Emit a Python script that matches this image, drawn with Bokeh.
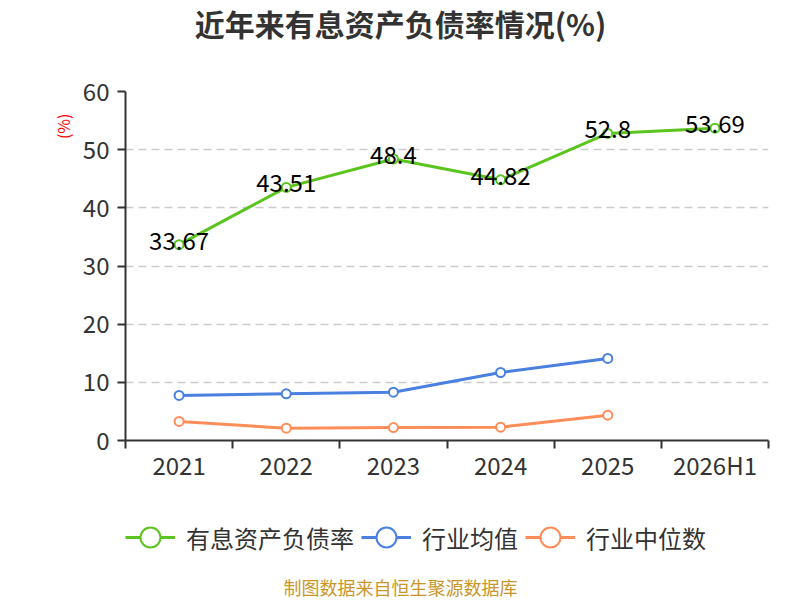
from bokeh.plotting import figure
from bokeh.models import Range1d, FixedTicker, Legend, LegendItem, Title, Label
from bokeh.layouts import column
from bokeh.embed import file_html
from bokeh.resources import INLINE
from bokeh.core.properties import value

# ---- data ----
categories = ["2021", "2022", "2023", "2024", "2025", "2026H1"]
debt_ratio = [33.67, 43.51, 48.4, 44.82, 52.8, 53.69]
industry_mean = [7.74, 8.02, 8.30, 11.69, 14.10]
industry_median = [3.27, 2.12, 2.23, 2.29, 4.35]
y_ticks = [0, 10, 20, 30, 40, 50, 60]
series_names = ["有息资产负债率", "行业均值", "行业中位数"]
title_text = "近年来有息资产负债率情况(%)"
source_text = "制图数据来自恒生聚源数据库"
unit_text = "(%)"

FONT = "Noto Sans CJK SC"
GREEN = "#5bc41e"
BLUE = "#4a80e0"
ORANGE = "#ff8d5a"
colors = [GREEN, BLUE, ORANGE]

x_pos = [i + 0.5 for i in range(len(categories))]
series_x = [x_pos, x_pos[:len(industry_mean)], x_pos[:len(industry_median)]]
series_y = [debt_ratio, industry_mean, industry_median]


def strip(height, y0):
    f = figure(width=800, height=height, output_backend="svg", toolbar_location=None,
               x_range=Range1d(125, 768), y_range=Range1d(y0 + height, y0),
               x_axis_type=None, y_axis_type=None,
               min_border_left=0, min_border_right=0, min_border_top=0, min_border_bottom=0,
               outline_line_color=None, background_fill_color="white", border_fill_color="white")
    f.xgrid.visible = False
    f.ygrid.visible = False
    return f


# ---- title strip ----
t = strip(46, 0)
t.add_layout(Label(x=400, y=22, text=title_text, text_align="center", text_baseline="middle",
                   text_font=FONT, text_font_size="30px", text_font_style="bold",
                   text_color="#333333"))

# ---- main chart ----
p = figure(width=800, height=449, output_backend="svg", toolbar_location=None,
           x_range=Range1d(0, len(categories)), y_range=Range1d(y_ticks[0], y_ticks[-1]),
           min_border_left=125, min_border_right=32, min_border_top=45, min_border_bottom=55,
           outline_line_color=None, background_fill_color="white", border_fill_color="white")

p.xaxis.ticker = FixedTicker(ticks=x_pos, minor_ticks=list(range(len(categories) + 1)))
p.xaxis.major_label_overrides = {x: c for x, c in zip(x_pos, categories)}
p.xaxis.major_tick_line_color = None
p.xaxis.major_tick_out = 0
p.xaxis.major_tick_in = 0
p.xaxis.minor_tick_line_color = "#333333"
p.xaxis.minor_tick_line_width = 2
p.xaxis.minor_tick_in = 0
p.xaxis.minor_tick_out = 8
p.xaxis.axis_line_color = "#333333"
p.xaxis.axis_line_width = 2
p.xaxis.major_label_text_font = FONT
p.xaxis.major_label_text_font_size = "24px"
p.xaxis.major_label_text_color = "#333333"
p.xaxis.major_label_standoff = -2

p.yaxis.ticker = FixedTicker(ticks=y_ticks)
p.yaxis.major_tick_line_color = "#333333"
p.yaxis.major_tick_line_width = 2
p.yaxis.major_tick_in = 0
p.yaxis.major_tick_out = 8
p.yaxis.minor_tick_line_color = None
p.yaxis.axis_line_color = "#333333"
p.yaxis.axis_line_width = 2
p.yaxis.major_label_text_font = FONT
p.yaxis.major_label_text_font_size = "24px"
p.yaxis.major_label_text_color = "#333333"
p.yaxis.major_label_standoff = 8

p.xgrid.visible = False
p.ygrid.grid_line_color = "#cccccc"
p.ygrid.grid_line_dash = "8 5"
p.ygrid.grid_line_width = 1.5

for xs, ys, c in zip(series_x, series_y, colors):
    p.line(xs, ys, line_color=c, line_width=3)
    p.scatter(xs, ys, size=9, fill_color="white", line_color=c, line_width=2)

p.text(x=x_pos, y=debt_ratio, text=[str(v) for v in debt_ratio], text_align="center",
       text_baseline="middle", y_offset=-4, text_font=value(FONT), text_font_size="24px",
       text_color="#000000")

p.add_layout(Title(text=unit_text, align="right", offset=22, standoff=10, text_font=FONT,
                   text_font_size="16px", text_font_style="normal", text_color="#ff0000"), "left")

# ---- legend + source strip ----
q = strip(105, 495)
items = []
for name, xs, ys, c in zip(series_names, series_x, series_y, colors):
    lr = q.line(xs, ys, line_color=c, line_width=3, visible=False)
    sr = q.scatter(xs, ys, fill_color="white", line_color=c, line_width=2, visible=False)
    items.append(LegendItem(label=name, renderers=[lr, sr]))

legend = Legend(items=items, orientation="horizontal", location=(0, 38),
                glyph_width=50, glyph_height=50, label_standoff=11, spacing=7,
                padding=0, margin=0, border_line_color=None, background_fill_alpha=0,
                label_text_font=FONT, label_text_font_size="24px", label_text_color="#333333",
                label_height=24)
q.add_layout(legend)

q.add_layout(Label(x=400, y=586, text=source_text, text_align="center", text_baseline="middle",
                   text_font=FONT, text_font_size="18px", text_color="#c9962a"))

open("out.html", "w").write(file_html(column(t, p, q, spacing=0), INLINE))
